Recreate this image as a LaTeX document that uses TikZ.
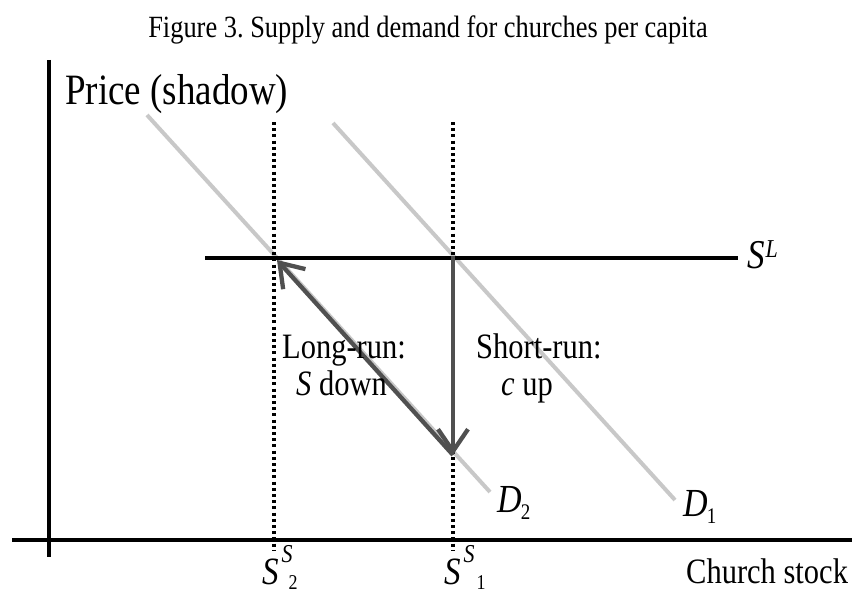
\documentclass[tikz,border=0pt]{standalone}
\usepackage{fontspec}
\setmainfont{Liberation Serif}
\usetikzlibrary{arrows.meta}
\newcommand{\fs}[1]{\fontsize{#1}{#1}\selectfont}
\newcommand{\tall}[1]{\scalebox{1}[1.17]{#1}}
\frenchspacing
\begin{document}
\begin{tikzpicture}[x=1pt,y=-1pt,
  axisline/.style={line width=3.3pt,black},
  supply/.style={line width=4.2pt,black},
  demand/.style={line width=4pt,color={rgb,255:red,200;green,200;blue,200}},
  dotline/.style={line width=3.4pt,dash pattern=on 3pt off 3.2pt,black},
  move/.style={line width=4.3pt,color={rgb,255:red,80;green,80;blue,80},-{Straight Barb[length=22pt,width=30pt]}},
  txt/.style={inner sep=0pt,anchor=base west}]
\useasboundingbox (0,0) rectangle (857,594);
% title
\node[inner sep=0pt,anchor=base] (title) at (428,38) {\tall{\fs{26.4}Figure 3. Supply and demand for churches per capita}};
% axes
\coordinate (ytop) at (49,60);
\coordinate (ybot) at (49,557);
\coordinate (xl) at (12,540);
\coordinate (xr) at (852,540);
\draw[axisline] (ytop) -- (ybot);
\draw[axisline] (xl) -- (xr);
\node[txt] (price) at (65,104) {\tall{\fs{37}Price (shadow)}};
\node[txt] (church) at (686,583) {\tall{\fs{30.5}Church stock}};
% demand curves
\coordinate (d2a) at (147,115);
\coordinate (d2b) at (490,492);
\coordinate (d1a) at (333,123);
\coordinate (d1b) at (675,500);
\draw[demand] (d2a) -- (d2b);
\draw[demand] (d1a) -- (d1b);
% dotted short-run supply lines
\coordinate (s2t) at (274,122);
\coordinate (s2b) at (274,551);
\coordinate (s1t) at (453,122);
\coordinate (s1b) at (453,551);
\draw[dotline] (s2t) -- (s2b);
\draw[dotline] (s1t) -- (s1b);
% long-run supply
\coordinate (sla) at (205,258);
\coordinate (slb) at (738,258);
\draw[supply] (sla) -- (slb);
\node[txt] (SL) at (747,268) {\tall{\fs{35}\itshape S\kern1pt\raisebox{9pt}{\fs{22}L}}};
% intersections
\coordinate (A) at (277,260);
\coordinate (B) at (453,258);
\coordinate (C) at (453,455);
\draw[move,shorten <=-2pt] (B) -- (C);
\draw[move] (C) -- (A);
% labels
\node[txt] (lr) at (282,358) {\tall{\fs{30.5}Long-run:}};
\node[txt] (sd) at (296,395) {\tall{\fs{30.5}\textit{S} down}};
\node[txt] (sr) at (476,358) {\tall{\fs{30.5}Short-run:}};
\node[txt] (cu) at (501,395) {\tall{\fs{30.5}\textit{c} up}};
\node[txt] (D2) at (497,512) {\tall{\fs{34}\itshape D\kern-1pt\raisebox{-6pt}{\fs{19}\upshape 2}}};
\node[txt] (D1) at (683,516) {\tall{\fs{34}\itshape D\kern-1pt\raisebox{-6pt}{\fs{19}\upshape 1}}};
\node[txt] (S2) at (262,584) {\tall{\fs{33}\itshape S\kern3pt\raisebox{18pt}{\fs{22}S}\kern-4pt\raisebox{-5pt}{\fs{18}\upshape 2}}};
\node[txt] (S1) at (444,584) {\tall{\fs{33}\itshape S\kern3pt\raisebox{18pt}{\fs{22}S}\kern2pt\raisebox{-5pt}{\fs{18}\upshape 1}}};
\end{tikzpicture}
\end{document}
